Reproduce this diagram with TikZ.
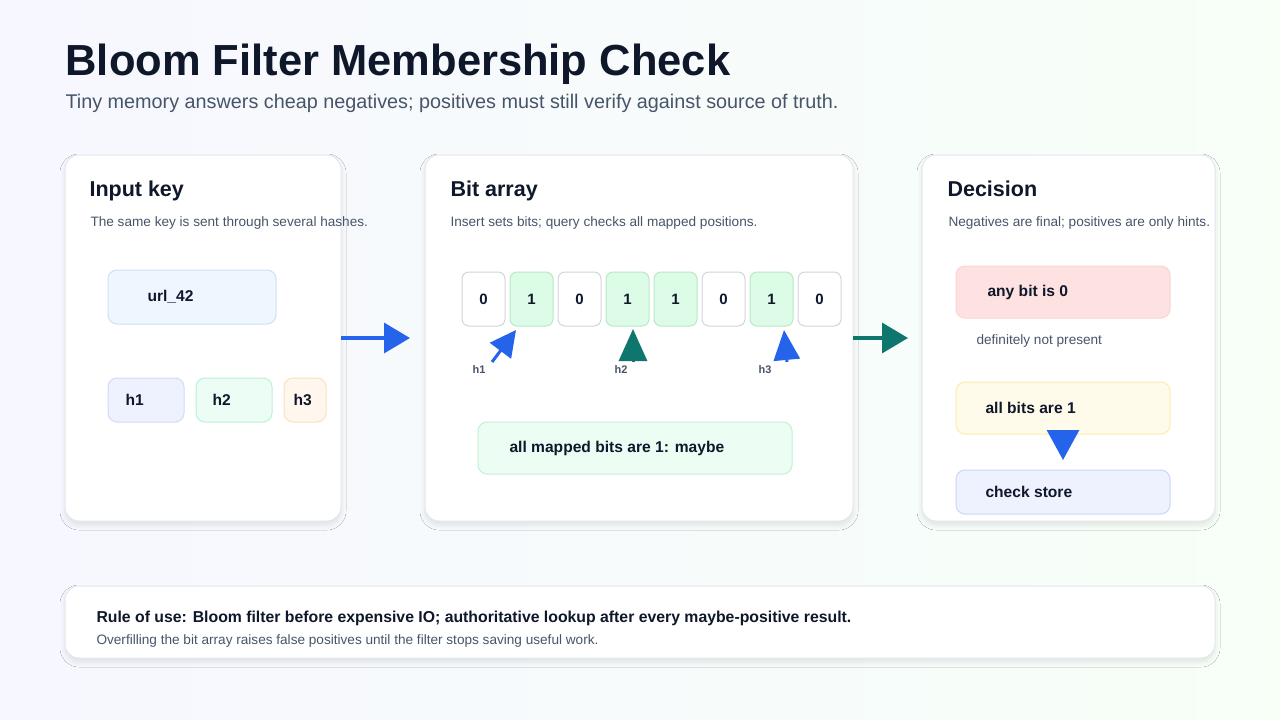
\documentclass[tikz,border=0pt]{standalone}
\usepackage{fontspec}
\setmainfont{Liberation Sans}
\usetikzlibrary{arrows.meta,shadows.blur}
\definecolor{ink}{HTML}{0F172A}
\definecolor{sub}{HTML}{475569}
\definecolor{bord}{HTML}{E2E8F0}
\definecolor{blu}{HTML}{2563EB}
\definecolor{teal}{HTML}{0F766E}
\begin{document}
\begin{tikzpicture}[x=1pt,y=-1pt,
 panel/.style={draw=bord,line width=1pt,fill=white,rounded corners=14pt,blur shadow={shadow blur steps=8,shadow blur radius=5pt,shadow xshift=0pt,shadow yshift=-4pt,shadow opacity=10}},
 box/.style={rounded corners=9pt,line width=1pt},
 cell/.style={draw=HTML-cell,fill=white,rounded corners=7pt,line width=1pt,minimum width=43pt,minimum height=54pt,font=\bfseries\fontsize{15}{15}\selectfont,text=ink},
 one/.style={cell,fill=HTMLg,draw=HTMLgb},
 hd/.style={anchor=base west,font=\bfseries\fontsize{21.5}{21}\selectfont,text=ink},
 ds/.style={anchor=base west,font=\fontsize{13.6}{13}\selectfont,text=sub},
 bl/.style={anchor=west,font=\bfseries\fontsize{15.6}{15}\selectfont,text=ink},
 hl/.style={font=\bfseries\fontsize{11}{11}\selectfont,text=sub},
 bigarrow/.style={line width=3.5pt,-{Triangle[length=26pt,width=30pt]}},
]
\definecolor{HTML-cell}{HTML}{D1D5DB}
\definecolor{HTMLg}{HTML}{DCFCE7}
\definecolor{HTMLgb}{HTML}{BBE7C9}
\shade[left color=blue!3,right color=green!3] (0,0) rectangle (1280,720);
\useasboundingbox (0,0) rectangle (1280,720);
\node[anchor=base west,font=\bfseries\fontsize{43.5}{43}\selectfont,text=ink] (title) at (62,75) {Bloom Filter Membership Check};
\node[anchor=base west,font=\fontsize{19.8}{19}\selectfont,text=sub] (subt) at (62,108) {Tiny memory answers cheap negatives; positives must still verify against source of truth.};
% panels
\draw[panel] (65,155) rectangle (341,521);
\draw[panel] (425,155) rectangle (853,521);
\draw[panel] (922,155) rectangle (1215,521);
\draw[panel] (65,586) rectangle (1215,658);
% panel 1
\node[hd] (h1t) at (86,196) {Input key};
\node[ds] (d1) at (87,226) {The same key is sent through several hashes.};
\draw[box,fill={rgb,255:red,239;green,246;blue,255},draw={rgb,255:red,205;green,224;blue,250}] (108,270) rectangle (276,324);
\node[bl] (url) at (144,297) {url\_42};
\draw[box,fill={rgb,255:red,238;green,242;blue,255},draw={rgb,255:red,210;green,218;blue,245}] (108,378) rectangle (184,422);
\node[bl] (hh1) at (122,400) {h1};
\draw[box,fill={rgb,255:red,236;green,253;blue,245},draw={rgb,255:red,190;green,240;blue,215}] (196,378) rectangle (272,422);
\node[bl] (hh2) at (209,400) {h2};
\draw[box,fill={rgb,255:red,255;green,247;blue,237},draw={rgb,255:red,253;green,222;blue,190}] (284,378) rectangle (326,422);
\node[bl] (hh3) at (290,400) {h3};
% panel 2
\node[hd] (h2t) at (447,196) {Bit array};
\node[ds] (d2) at (447,226) {Insert sets bits; query checks all mapped positions.};
\node[cell] (c0) at (483.5,299) {0};
\node[one] (c1) at (531.5,299) {1};
\node[cell] (c2) at (579.5,299) {0};
\node[one] (c3) at (627.5,299) {1};
\node[one] (c4) at (675.5,299) {1};
\node[cell] (c5) at (723.5,299) {0};
\node[one] (c6) at (771.5,299) {1};
\node[cell] (c7) at (819.5,299) {0};
\node[hl] (l1) at (479,370) {h1};
\node[hl] (l2) at (621,370) {h2};
\node[hl] (l3) at (765,370) {h3};
\coordinate (s1) at (492,362); \coordinate (s2) at (633,362); \coordinate (s3) at (787,362);
\draw[blu,line width=3pt,-{Triangle[length=26pt,width=26pt]}] (s1) -- (516,330);
\draw[teal,line width=3pt,-{Triangle[length=32pt,width=28pt]}] (s2) -- (633,329);
\draw[blu,line width=3pt,-{Triangle[length=30pt,width=26pt]}] (s3) -- (784,330);
\draw[box,fill={rgb,255:red,236;green,253;blue,243},draw={rgb,255:red,195;green,240;blue,210}] (478,422) rectangle (792,474);
\node[bl] (maybe) at (506,448) {all mapped bits are 1: maybe};
% panel 3
\node[hd] (h3t) at (944,196) {Decision};
\node[ds] (d3) at (945,226) {Negatives are final; positives are only hints.};
\draw[box,fill={rgb,255:red,254;green,226;blue,226},draw={rgb,255:red,252;green,210;blue,210}] (956,266) rectangle (1170,318);
\node[bl] (any) at (984,292) {any bit is 0};
\node[ds] (def) at (973,344) {definitely not present};
\draw[box,fill={rgb,255:red,254;green,251;blue,234},draw={rgb,255:red,253;green,235;blue,170}] (956,382) rectangle (1170,434);
\node[bl] (all) at (982,408) {all bits are 1};
\draw[box,fill={rgb,255:red,238;green,242;blue,255},draw={rgb,255:red,205;green,215;blue,245}] (956,470) rectangle (1170,514);
\node[bl] (chk) at (982,492) {check store};
\coordinate (a1) at (1063,430); \coordinate (a2) at (1063,460);
\draw[blu,line width=3pt,-{Triangle[length=30pt,width=32pt]}] (a1) -- (a2);
% main arrows
\coordinate (m1) at (341,338); \coordinate (m2) at (410,338);
\draw[blu,bigarrow] (m1) -- (m2);
\coordinate (m3) at (853,338); \coordinate (m4) at (908,338);
\draw[teal,bigarrow] (m3) -- (m4);
% footer
\node[anchor=base west,font=\bfseries\fontsize{15.8}{15}\selectfont,text=ink] (f1) at (93,622) {Rule of use: Bloom filter before expensive IO; authoritative lookup after every maybe-positive result.};
\node[ds] (f2) at (93,644) {Overfilling the bit array raises false positives until the filter stops saving useful work.};
\end{tikzpicture}
\end{document}
